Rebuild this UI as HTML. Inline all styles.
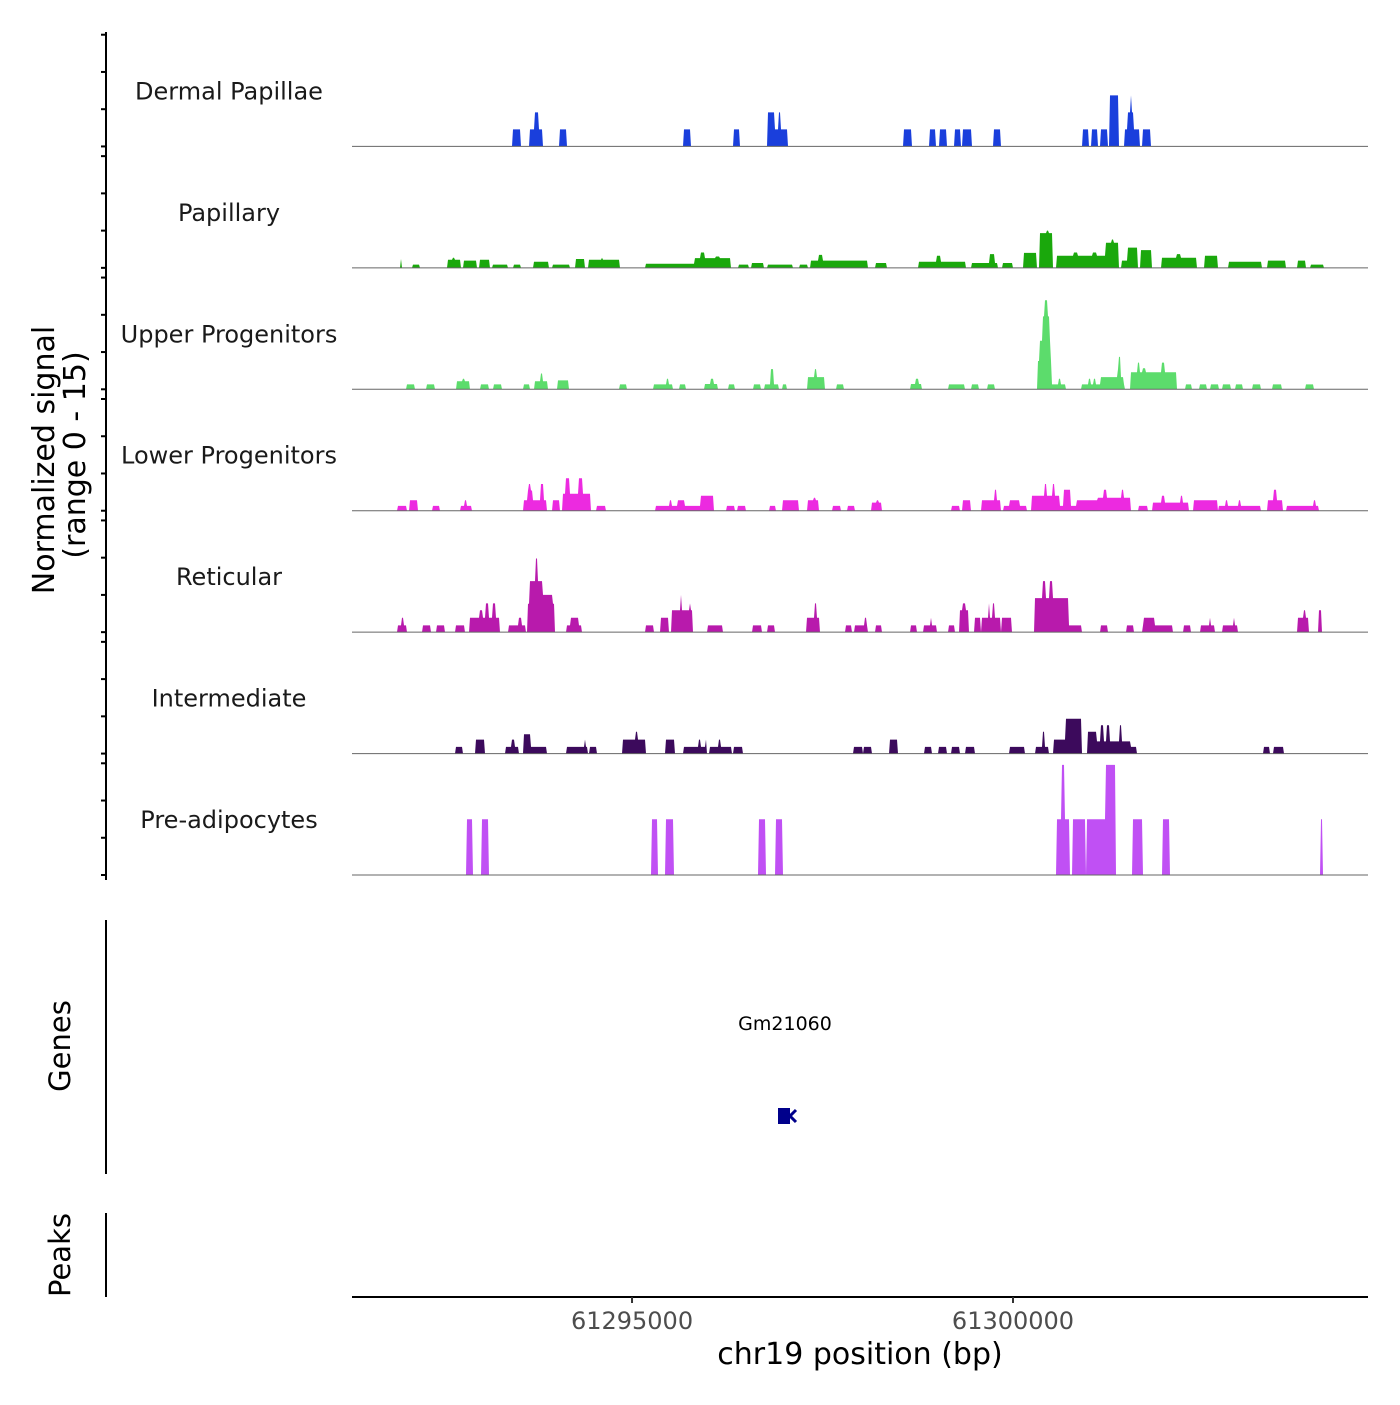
<!DOCTYPE html>
<html><head><meta charset="utf-8"><style>
html,body{margin:0;padding:0;background:#fff;}
svg text{font-family:"DejaVu Sans","Liberation Sans",sans-serif;}
</style></head><body>
<svg id="chart" width="1400" height="1400" viewBox="0 0 1400 1400" xmlns="http://www.w3.org/2000/svg">
<rect width="1400" height="1400" fill="#fff"/>
<g id="tracks"></g>
<g id="yaxis"></g>
<text transform="translate(54,460) rotate(-90)" text-anchor="middle" font-size="30" fill="#000">Normalized signal</text>
<text transform="translate(85,455) rotate(-90)" text-anchor="middle" font-size="30" fill="#000">(range 0 - 15)</text>
<line x1="106" y1="920" x2="106" y2="1174" stroke="#000" stroke-width="2"/>
<text transform="translate(70,1046) rotate(-90)" text-anchor="middle" font-size="29" fill="#000">Genes</text>
<text x="785" y="1030" text-anchor="middle" font-size="19" fill="#000">Gm21060</text>
<g>
<rect x="778" y="1108" width="12" height="16" fill="#00008B"/>
<polyline points="796,1110 790,1116 796,1122" fill="none" stroke="#00008B" stroke-width="3"/>
</g>
<line x1="106" y1="1213" x2="106" y2="1297" stroke="#000" stroke-width="2"/>
<text transform="translate(70,1255) rotate(-90)" text-anchor="middle" font-size="29" fill="#000">Peaks</text>
<g id="xaxis"></g>
<text x="860" y="1364" text-anchor="middle" font-size="30" fill="#000">chr19 position (bp)</text>
</svg>
<script>
const trackNames = ["Dermal Papillae","Papillary","Upper Progenitors","Lower Progenitors","Reticular","Intermediate","Pre-adipocytes"];
const trackColors = ["#1a3fdc","#1aa80c","#5cdc6c","#ec2ae0","#b81aac","#3c0a5c","#c050f4"];
const xTicks = [61295000, 61300000];
const xTickLabels = ["61295000","61300000"];
const regionStart = 61291325;
const regionEnd = 61304659;
const yRangeMax = 15;
const dermalPapillae = [[61293439,61293544,2.1],[61293662,61293832,2.1],[61293727,61293780,4.2],[61294055,61294147,2.1],[61295682,61295774,2.1],[61296338,61296417,2.1],[61296784,61296876,4.2],[61296876,61297047,2.1],[61296929,61296955,4.2],[61298569,61298674,2.1],[61298910,61298988,2.1],[61299041,61299133,2.1],[61299238,61299316,2.1],[61299343,61299461,2.1],[61299749,61299841,2.1],[61300917,61300996,2.1],[61301035,61301114,2.1],[61301153,61301245,2.1],[61301271,61301389,6.3],[61301468,61301665,2.1],[61301507,61301586,4.2],[61301547,61301560,6.3],[61301704,61301809,2.1]];
const papillary = [[61291967,61291982,1.1],[61292127,61292219,0.4],[61292582,61292753,1.0],[61292650,61292680,1.25],[61292796,61292966,0.9],[61293006,61293137,1.0],[61293176,61293373,0.4],[61293452,61293544,0.4],[61293714,61293911,0.75],[61293964,61294180,0.4],[61294265,61294377,1.1],[61294436,61294843,1.0],[61294600,61294620,1.25],[61295184,61295827,0.5],[61295827,61296299,1.2],[61295900,61295960,1.9],[61296100,61296150,1.4],[61296404,61296535,0.4],[61296574,61296732,0.6],[61296779,61297112,0.4],[61297198,61297309,0.4],[61297348,61298096,0.9],[61297450,61297500,1.6],[61298201,61298352,0.6],[61298761,61299378,0.75],[61299000,61299060,1.5],[61299461,61299802,0.6],[61299700,61299760,1.7],[61299867,61299999,0.6],[61300143,61300314,1.85],[61300360,61300531,4.3],[61300440,61300470,4.6],[61300576,61300655,1.5],[61300655,61301215,1.5],[61300800,61300850,1.9],[61301050,61301100,1.9],[61301215,61301389,3.1],[61301300,61301330,3.5],[61301429,61301514,0.9],[61301514,61301639,2.5],[61301686,61301830,2.2],[61301954,61302413,1.25],[61302150,61302200,1.7],[61302514,61302686,1.5],[61302840,61303266,0.75],[61303353,61303581,0.9],[61303737,61303843,0.9],[61303916,61304079,0.4]];
const upperProgenitors = [[61292043,61292153,0.6],[61292308,61292410,0.6],[61292709,61292880,1.0],[61292780,61292810,1.3],[61293024,61293119,0.6],[61293187,61293297,0.6],[61293579,61293664,0.6],[61293733,61293903,1.0],[61293800,61293830,1.95],[61294023,61294168,1.1],[61294843,61294937,0.6],[61295295,61295543,0.6],[61295460,61295490,1.3],[61295628,61295714,0.6],[61295953,61296132,0.65],[61296040,61296070,1.3],[61296269,61296354,0.6],[61296601,61296695,0.6],[61296745,61296934,0.6],[61296830,61296860,2.5],[61296985,61297036,0.6],[61297309,61297532,1.5],[61297400,61297430,2.5],[61297693,61297788,0.6],[61298658,61298811,0.65],[61298730,61298760,1.3],[61299154,61299366,0.6],[61299461,61299553,0.6],[61299671,61299768,0.6],[61300323,61300518,3.5],[61300360,61300505,6],[61300390,61300480,9],[61300420,61300465,11],[61300518,61300690,0.6],[61300600,61300630,1.3],[61300912,61301475,0.6],[61301000,61301030,1.3],[61301060,61301090,1.3],[61301160,61301457,1.5],[61301380,61301420,2.5],[61301397,61301420,4],[61301543,61302158,2.1],[61301640,61301670,3.3],[61301700,61301740,2.6],[61301960,61301990,3.3],[61302268,61302354,0.6],[61302448,61302551,0.6],[61302602,61302704,0.6],[61302754,61302859,0.6],[61302925,61303017,0.6],[61303148,61303253,0.6],[61303410,61303524,0.6],[61303848,61303950,0.6]];
const lowerProgenitors = [[61291930,61292052,0.6],[61292086,61292196,1.3],[61292393,61292478,0.6],[61292751,61292905,0.6],[61292810,61292840,1.3],[61293588,61293886,1.3],[61293630,61293700,2.5],[61293650,61293670,3.3],[61293800,61293850,3.3],[61293964,61294049,1.3],[61294091,61294458,2.1],[61294140,61294190,4],[61294300,61294360,4],[61294543,61294655,0.6],[61295312,61295422,0.6],[61295422,61295909,0.6],[61295500,61295530,1.3],[61295600,61295700,1.3],[61295909,61296080,1.85],[61296252,61296354,0.6],[61296388,61296498,0.6],[61296805,61296891,0.6],[61296977,61297190,1.3],[61297309,61297455,1.3],[61297390,61297420,1.6],[61297642,61297745,0.6],[61297830,61297932,0.6],[61298146,61298283,1.0],[61298210,61298240,1.3],[61299196,61299298,0.6],[61299341,61299452,1.3],[61299597,61299836,1.3],[61299760,61299790,2.6],[61299878,61300178,0.6],[61299960,61300090,1.3],[61300245,61300622,1.85],[61300420,61300450,3.3],[61300520,61300550,3.3],[61300622,61300843,0.6],[61300673,61300758,2.6],[61300843,61301117,1.3],[61301117,61301543,1.6],[61301200,61301240,2.6],[61301430,61301460,2.6],[61301654,61301774,0.6],[61301842,61302312,1.0],[61301950,61302000,1.85],[61302200,61302230,1.85],[61302380,61302696,1.3],[61302704,61303250,0.6],[61302790,61302820,1.3],[61302960,61302990,1.3],[61303353,61303549,1.3],[61303430,61303460,2.6],[61303592,61304019,0.6],[61303950,61303980,1.3]];
const reticular = [[61291930,61292052,0.83],[61291980,61292010,1.77],[61292257,61292367,0.83],[61292444,61292547,0.83],[61292691,61292812,0.83],[61292871,61293263,1.77],[61293000,61293040,2.7],[61293090,61293120,3.55],[61293180,61293210,3.55],[61293391,61293605,0.83],[61293520,61293550,1.77],[61293630,61293990,3.5],[61293660,61293830,6.3],[61293740,61293760,9.1],[61293830,61293960,4.6],[61294143,61294348,0.83],[61294200,61294300,1.77],[61295184,61295286,0.83],[61295380,61295483,1.77],[61295525,61295799,2.7],[61295640,61295660,4.6],[61295760,61295780,3.55],[61295995,61296191,0.83],[61296584,61296712,0.83],[61296780,61296874,0.83],[61297301,61297463,1.77],[61297400,61297430,3.55],[61297805,61297881,0.83],[61297932,61298103,0.83],[61298060,61298080,1.77],[61298197,61298283,0.83],[61298658,61298743,0.83],[61298838,61299008,0.83],[61298920,61298940,1.77],[61299154,61299238,0.83],[61299307,61299427,2.7],[61299340,61299380,3.55],[61299495,61299579,1.77],[61299588,61299836,1.77],[61299680,61299700,3.55],[61299740,61299760,3.55],[61299862,61299982,1.77],[61300287,61300733,4.2],[61300390,61300430,6.3],[61300490,61300520,6.3],[61300733,61300904,0.83],[61301159,61301245,0.83],[61301492,61301594,0.83],[61301711,61302098,0.83],[61301720,61301860,1.77],[61302242,61302337,0.83],[61302465,61302653,0.83],[61302580,61302600,1.77],[61302754,61302951,0.83],[61302900,61302920,1.77],[61303746,61303890,1.77],[61303820,61303850,2.7],[61304019,61304061,2.7]];
const intermediate = [[61292691,61292777,0.83],[61292948,61293067,1.73],[61293348,61293520,0.83],[61293430,61293460,1.73],[61293579,61293886,0.83],[61293588,61293675,2.4],[61294151,61294424,0.83],[61294380,61294400,1.73],[61294449,61294543,0.83],[61294886,61295184,1.73],[61295050,61295080,2.7],[61295441,61295568,1.73],[61295680,61295977,0.83],[61295880,61295910,1.73],[61295970,61295990,1.73],[61296021,61296311,0.83],[61296140,61296170,1.73],[61296337,61296456,0.83],[61297915,61298027,0.83],[61298044,61298146,0.83],[61298385,61298487,1.73],[61298847,61298940,0.83],[61299025,61299135,0.83],[61299196,61299307,0.83],[61299383,61299495,0.83],[61299965,61300152,0.83],[61300306,61300476,0.83],[61300390,61300420,2.7],[61300544,61300690,1.73],[61300690,61300902,4.3],[61300988,61301100,2.7],[61301100,61301543,1.5],[61301160,61301190,3.5],[61301240,61301270,3.5],[61301400,61301430,3.5],[61301543,61301628,0.83],[61303292,61303378,0.83],[61303422,61303558,0.83]];
const preAdipocytes = [[61292835,61292918,6.9],[61293031,61293121,6.9],[61295256,61295342,6.9],[61295441,61295554,6.9],[61296661,61296758,6.9],[61296887,61296985,6.9],[61300576,61300743,6.9],[61300646,61300676,13.6],[61300788,61300954,6.9],[61300970,61301218,6.9],[61301218,61301353,13.6],[61301573,61301707,6.9],[61301971,61302061,6.9],[61304040,61304065,6.9]];
const trackData = [dermalPapillae,papillary,upperProgenitors,lowerProgenitors,reticular,intermediate,preAdipocytes];

const NS = "http://www.w3.org/2000/svg";
const plotLeft = 352, plotRight = 1368, plotTop = 25, trackH = 121.43;
function xScale(bp){ return plotLeft + (bp - regionStart) * (plotRight - plotLeft) / (regionEnd - regionStart); }
function xInv(px){ return regionStart + (px - plotLeft) * (regionEnd - regionStart) / (plotRight - plotLeft); }
function baseY(i){ return plotTop + (i + 1) * trackH; }
function yScale(i, v){ return baseY(i) - v / yRangeMax * trackH; }
function mk(tag, attrs){ const e = document.createElementNS(NS, tag); for (const k in attrs) e.setAttribute(k, attrs[k]); return e; }

const tracksG = document.getElementById('tracks');
trackData.forEach((data, i) => {
  const g = mk('g', {});
  
  
  let d = 'M' + plotLeft + ',' + baseY(i).toFixed(1);
  for (let c = plotLeft; c <= plotRight; c++) {
    const bp = xInv(c + 0.5);
    let v = 0;
    for (const iv of data) if (bp >= iv[0] && bp <= iv[1] && iv[2] > v) v = iv[2];
    d += 'L' + c + ',' + yScale(i, v).toFixed(1);
  }
  d += 'L' + plotRight + ',' + baseY(i).toFixed(1) + 'Z';
  const area = mk('path', {d: d, fill: trackColors[i], stroke: 'none'});
  
  
  g.appendChild(area);
  const bl = mk('line', {x1: plotLeft, x2: plotRight, y1: baseY(i), y2: baseY(i), stroke: '#666', 'stroke-width': 1});
  
  
  g.appendChild(bl);
  const lab = mk('text', {x: 229, y: baseY(i) - 47, 'text-anchor': 'middle', 'font-size': 24, fill: '#1a1a1a'});
  lab.textContent = trackNames[i];
  
  
  g.appendChild(lab);
  tracksG.appendChild(g);
});

const yG = document.getElementById('yaxis');
const yl = mk('line', {x1: 106, x2: 106, y1: 32, y2: 880, stroke: '#000', 'stroke-width': 2});


yG.appendChild(yl);
const yTickVals = [0, 4.6, 9.2, 13.8];
for (let i = 0; i < trackNames.length; i++) {
  yTickVals.forEach(v => {
    const y = yScale(i, v);
    const t = mk('line', {x1: 101, x2: 106, y1: y, y2: y, stroke: '#000', 'stroke-width': 2});
    
    
    yG.appendChild(t);
  });
}

const xG = document.getElementById('xaxis');
const xl = mk('line', {x1: plotLeft, x2: plotRight, y1: 1297, y2: 1297, stroke: '#000', 'stroke-width': 2});


xG.appendChild(xl);
xTicks.forEach((bp, k) => {
  const x = xScale(bp);
  const t = mk('line', {x1: x, x2: x, y1: 1297, y2: 1303, stroke: '#333', 'stroke-width': 2});
  
  
  xG.appendChild(t);
  const lab = mk('text', {x: x, y: 1329, 'text-anchor': 'middle', 'font-size': 24, fill: '#4d4d4d'});
  lab.textContent = xTickLabels[k];
  
  
  xG.appendChild(lab);
});
</script>
</body></html>
